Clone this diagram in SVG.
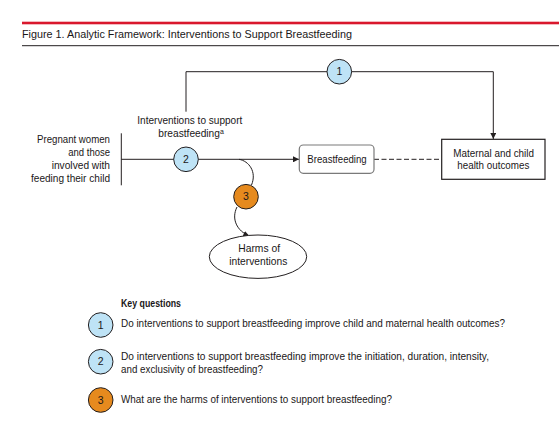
<svg xmlns="http://www.w3.org/2000/svg" width="559" height="422" viewBox="0 0 559 422">
<style>
text{font-family:"Liberation Sans",Arial,sans-serif;fill:#1a1718;}
.lbl{font-size:11px;}
.q{font-size:11px;}
.num{font-size:10.5px;text-anchor:middle;}
.ln{stroke:#231f20;stroke-width:1;fill:none;}
.blue{fill:#bee3f6;stroke:#231f20;stroke-width:1;}
.orange{fill:#e68a1e;stroke:#231f20;stroke-width:1;}
</style>
<defs>
<marker id="arr" viewBox="0 0 10 10" refX="10" refY="5" markerWidth="6" markerHeight="6" orient="auto" markerUnits="userSpaceOnUse">
<path d="M0,0 L10,5 L0,10 z" fill="#231f20"/>
</marker>
</defs>
<rect width="559" height="422" fill="#ffffff"/>
<g id="header">
<rect x="22" y="21.7" width="537" height="2.6" fill="#d9182d"/>
<text x="22" y="38.3" font-size="11.5" textLength="330" lengthAdjust="spacingAndGlyphs">Figure 1. Analytic Framework: Interventions to Support Breastfeeding</text>
<line x1="22" y1="45.7" x2="559" y2="45.7" stroke="#231f20" stroke-width="1"/>
</g>
<g id="connectors">
<path class="ln" d="M186,111.7 V71.7 H493.3 V139" marker-end="url(#arr)"/>
<line class="ln" x1="121.3" y1="133.3" x2="121.3" y2="185.3"/>
<line class="ln" x1="121.3" y1="159.3" x2="299" y2="159.3" marker-end="url(#arr)"/>
<line class="ln" x1="374" y1="159.3" x2="441.7" y2="159.3" stroke-dasharray="5,2.5"/>
<path class="ln" d="M239,159.3 C249,161 257,172 251.5,185"/>
<path class="ln" d="M237,207 C231,219 237,231 249.3,236" marker-end="url(#arr)"/>
</g>
<g id="population">
<text class="lbl" x="110" y="143.3" text-anchor="end" textLength="73" lengthAdjust="spacingAndGlyphs">Pregnant women</text>
<text class="lbl" x="110" y="156" text-anchor="end" textLength="41.7" lengthAdjust="spacingAndGlyphs">and those</text>
<text class="lbl" x="110" y="168.5" text-anchor="end" textLength="58.3" lengthAdjust="spacingAndGlyphs">involved with</text>
<text class="lbl" x="110" y="181.7" text-anchor="end" textLength="79" lengthAdjust="spacingAndGlyphs">feeding their child</text>
</g>
<g id="interventions">
<text class="lbl" x="137.3" y="123.5" textLength="105" lengthAdjust="spacingAndGlyphs">Interventions to support</text>
<text class="lbl" x="158.3" y="136.8" textLength="65.5" lengthAdjust="spacingAndGlyphs">breastfeeding<tspan font-size="7.5" dy="-3">a</tspan></text>
</g>
<g id="kq1">
<circle class="blue" cx="339.3" cy="71.7" r="12.3"/>
<text class="num" x="339.3" y="75.4">1</text>
</g>
<g id="kq2">
<circle class="blue" cx="186" cy="159.3" r="12.3"/>
<text class="num" x="186" y="163">2</text>
</g>
<g id="kq3">
<circle class="orange" cx="246" cy="196.7" r="12.3"/>
<text class="num" x="246" y="200.4">3</text>
</g>
<g id="breastfeeding">
<rect x="299.3" y="145" width="74.7" height="28.3" rx="4" fill="#ffffff" stroke="#7a7a7a" stroke-width="1.2"/>
<text class="lbl" x="307.3" y="163.3" textLength="59.4" lengthAdjust="spacingAndGlyphs">Breastfeeding</text>
</g>
<g id="outcomes">
<rect x="441.7" y="139.3" width="103.3" height="40" fill="#ffffff" stroke="#231f20" stroke-width="1.2"/>
<text class="lbl" x="453.3" y="156.7" textLength="80.7" lengthAdjust="spacingAndGlyphs">Maternal and child</text>
<text class="lbl" x="457.3" y="169.3" textLength="72" lengthAdjust="spacingAndGlyphs">health outcomes</text>
</g>
<g id="harms">
<ellipse cx="258" cy="256.7" rx="48.7" ry="21.7" fill="#ffffff" stroke="#231f20" stroke-width="1"/>
<text class="lbl" x="238.3" y="252.3" textLength="41.7" lengthAdjust="spacingAndGlyphs">Harms of</text>
<text class="lbl" x="229.3" y="265" textLength="58" lengthAdjust="spacingAndGlyphs">interventions</text>
</g>
<g id="key-questions">
<text class="q" x="121" y="306.7" font-weight="bold" textLength="60" lengthAdjust="spacingAndGlyphs">Key questions</text>
<circle class="blue" cx="100.7" cy="325" r="12.3"/>
<text class="num" x="100.7" y="328.7">1</text>
<text class="q" x="121" y="327.3" textLength="384" lengthAdjust="spacingAndGlyphs">Do interventions to support breastfeeding improve child and maternal health outcomes?</text>
<circle class="blue" cx="100.7" cy="361.7" r="12.3"/>
<text class="num" x="100.7" y="365.4">2</text>
<text class="q" x="121" y="360" textLength="368" lengthAdjust="spacingAndGlyphs">Do interventions to support breastfeeding improve the initiation, duration, intensity,</text>
<text class="q" x="121" y="373.3" textLength="142" lengthAdjust="spacingAndGlyphs">and exclusivity of breastfeeding?</text>
<circle class="orange" cx="100.7" cy="400" r="12.3"/>
<text class="num" x="100.7" y="403.7">3</text>
<text class="q" x="121" y="402.7" textLength="271" lengthAdjust="spacingAndGlyphs">What are the harms of interventions to support breastfeeding?</text>
</g>
</svg>
